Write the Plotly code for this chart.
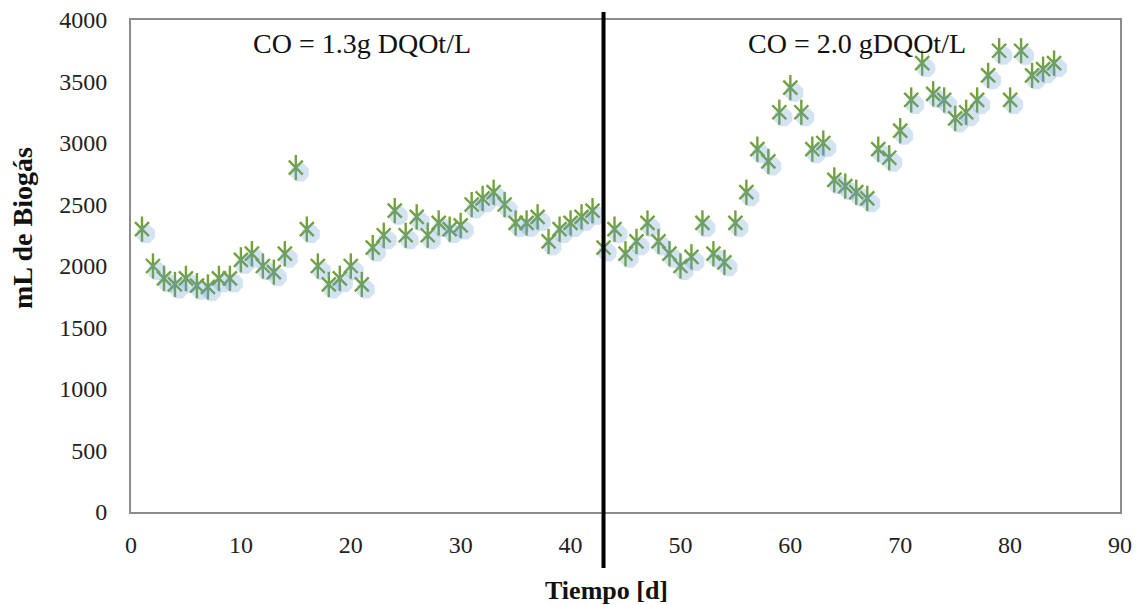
import plotly.graph_objects as go

days = list(range(1, 85))
biogas = [
    2300, 2000, 1900, 1850, 1900, 1840, 1830, 1900, 1900, 2050,
    2100, 2000, 1950, 2100, 2800, 2300, 2000, 1850, 1900, 2000,
    1850, 2150, 2250, 2450, 2250, 2400, 2250, 2350, 2300, 2330,
    2500, 2550, 2600, 2500, 2350, 2350, 2400, 2200, 2300, 2350,
    2400, 2450, 2150, 2300, 2100, 2200, 2350, 2200, 2100, 2000,
    2075, 2350, 2100, 2030, 2350, 2600, 2950, 2850, 3250, 3450,
    3250, 2950, 3000, 2700, 2650, 2600, 2550, 2950, 2880, 3100,
    3350, 3650, 3400, 3350, 3200, 3250, 3350, 3550, 3750, 3350,
    3750, 3550, 3600, 3650,
]
x_ticks = [0, 10, 20, 30, 40, 50, 60, 70, 80, 90]
y_ticks = [0, 500, 1000, 1500, 2000, 2500, 3000, 3500, 4000]
phase_change_day = 43
phase_labels = ["CO = 1.3g DQOt/L", "CO = 2.0 gDQOt/L"]
x_title = "Tiempo [d]"
y_title = "mL de Biogás"

FONT = "Liberation Serif, Times New Roman, serif"
GREEN = "#72A13A"
W, H = 1137, 605
PX0, PX1, PY0, PY1 = 131, 1120, 20, 512   # plot area in screen pixels
L, T = PX0, PY0
pw, ph = PX1 - PX0, PY1 - PY0
R, B = W - L - pw, H - T - ph


def px(sx):
    return (sx - PX0) / pw


def py(sy):
    return (PY1 - sy) / ph


fig = go.Figure()

# soft shadow: same data on hidden axes whose ranges are shifted by a few pixels
sx_shift = 4 / pw * 90
sy_shift = 5 / ph * 4000
fig.add_trace(go.Scatter(
    x=days, y=biogas, mode="markers", xaxis="x2", yaxis="y2",
    marker=dict(symbol="asterisk-open", size=15, color="rgba(100,155,210,0.28)",
                line=dict(width=7, color="rgba(100,155,210,0.28)")),
    hoverinfo="skip", showlegend=False,
))
# star marker = thin x + vertical line
fig.add_trace(go.Scatter(
    x=days, y=biogas, mode="markers",
    marker=dict(symbol="x-thin-open", size=14, color=GREEN,
                line=dict(width=2.4, color=GREEN)),
    showlegend=False,
))
fig.add_trace(go.Scatter(
    x=days, y=biogas, mode="markers",
    marker=dict(symbol="line-ns-open", size=18, color=GREEN,
                line=dict(width=2.4, color=GREEN)),
    hoverinfo="skip", showlegend=False,
))

axis_common = dict(showgrid=False, zeroline=False, ticks="", ticklabeloverflow="allow",
                   tickfont=dict(family=FONT, size=24, color="#222"))
fig.update_layout(
    width=W, height=H,
    margin=dict(l=L, r=R, t=T, b=B, autoexpand=False),
    paper_bgcolor="white", plot_bgcolor="white",
    xaxis=dict(range=[0, 90], tickvals=x_ticks, showline=True, mirror=True,
               linecolor="#8c8c8c", linewidth=2, ticklabelstandoff=10, **axis_common),
    yaxis=dict(range=[0, 4000], tickvals=y_ticks, showline=True, mirror=True,
               linecolor="#8c8c8c", linewidth=2, ticklabelstandoff=17, **axis_common),
    xaxis2=dict(range=[-sx_shift, 90 - sx_shift], visible=False, overlaying="x", anchor="y2"),
    yaxis2=dict(range=[sy_shift, 4000 + sy_shift], visible=False, overlaying="y", anchor="x2"),
)

fig.add_shape(type="line", xref="x", yref="paper",
              x0=phase_change_day, x1=phase_change_day, y0=py(568), y1=py(12),
              line=dict(color="black", width=4))

ann = dict(xref="paper", yref="paper", showarrow=False, xanchor="center", yanchor="middle")
fig.add_annotation(text=phase_labels[0], x=px(362), y=py(43),
                   font=dict(family=FONT, size=28, color="#111"), **ann)
fig.add_annotation(text=phase_labels[1], x=px(857), y=py(43),
                   font=dict(family=FONT, size=28, color="#111"), **ann)
fig.add_annotation(text="<b>" + x_title + "</b>", x=px(606), y=py(590),
                   font=dict(family=FONT, size=26, color="#111"), **ann)
fig.add_annotation(text="<b>" + y_title + "</b>", x=px(23), y=py(228), textangle=-90,
                   font=dict(family=FONT, size=28, color="#111"), **ann)

fig.write_html(
    "out.html",
    config={"displayModeBar": False},
    post_script="document.body.style.margin='0';document.body.style.overflow='hidden';",
)
